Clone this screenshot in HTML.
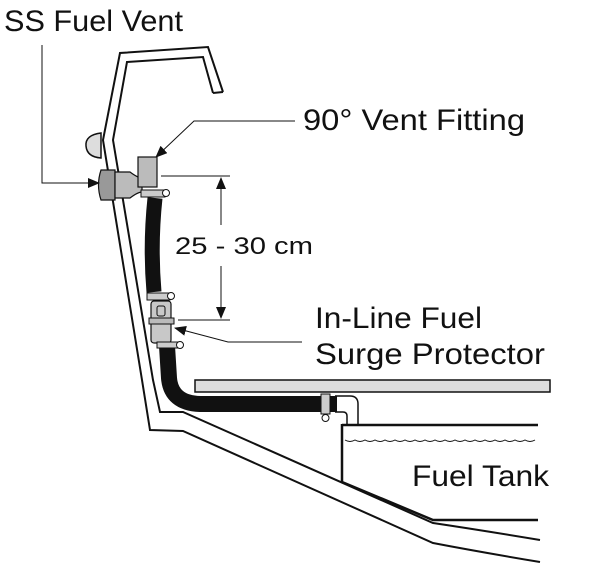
<!DOCTYPE html>
<html><head><style>
html,body{margin:0;padding:0;background:#fff;}
svg{display:block;}
text{font-family:"Liberation Sans",sans-serif;fill:#111;}
</style></head><body>
<svg width="600" height="580" viewBox="0 0 600 580" xmlns="http://www.w3.org/2000/svg">
<defs>
<marker id="ar" markerWidth="12" markerHeight="10" refX="11" refY="5" orient="auto" markerUnits="userSpaceOnUse">
<path d="M0,0 L12,5 L0,10 z" fill="#111"/></marker>
</defs>
<path d="M223,92 L208,47 L120,53 L103,140 L142,380 L150,430 L183,431 L433,543 Q480,552 540,562" fill="none" stroke="#111" stroke-width="2"/>
<path d="M213,93 L203,57 L127,62 L113,140 L153,380 L160,412 L183,412 L433,523 Q480,530 540,540" fill="none" stroke="#111" stroke-width="2"/>
<path d="M213,93 L223,92" stroke="#111" stroke-width="2"/>
<path d="M101,133 Q85,135 86,146 Q87,157 101,158 z" fill="#ddd" stroke="#111" stroke-width="1.5"/>
<rect x="195" y="380" width="355" height="12" fill="#ddd" stroke="#111" stroke-width="1.5"/>
<path d="M342,425 L538,425" stroke="#111" stroke-width="2.5"/>
<path d="M342,424 L342,482 L433,520 L538,520" fill="none" stroke="#111" stroke-width="2.5"/>
<path d="M345,440 q5,3 10,0 q5,3 10,0 q5,3 10,0 q5,3 10,0 q5,3 10,0 q5,3 10,0 q5,3 10,0 q5,3 10,0 q5,3 10,0 q5,3 10,0 q5,3 10,0 q5,3 10,0 q5,3 10,0 q5,3 10,0 q5,3 10,0 q5,3 10,0 q5,3 10,0 q5,3 10,0 q5,3 10,0" fill="none" stroke="#111" stroke-width="1"/>
<path d="M335,396 L350,396 Q358,396 358,404 L358,425" fill="none" stroke="#111" stroke-width="1.5"/>
<path d="M335,412 L343,412 Q347,412 347,416 L347,425" fill="none" stroke="#111" stroke-width="1.5"/>
<path d="M155,198 Q150,245 154,292" fill="none" stroke="#111" stroke-width="15"/>
<path d="M167,346 L169,378 Q171,403 200,404 L337,404" fill="none" stroke="#111" stroke-width="16"/>
<rect x="321" y="394" width="9" height="20" fill="#ccc" stroke="#111" stroke-width="1"/>
<circle cx="325.5" cy="418" r="3.5" fill="#fff" stroke="#111" stroke-width="1"/>
<path d="M101,170 Q96,185 101,200 L115,200 L115,170 z" fill="#999" stroke="#111" stroke-width="1.2"/>
<path d="M115,172 L130,172 Q138,178 142,178 L142,192 Q138,192 130,198 L115,198 z" fill="#bbb" stroke="#111" stroke-width="1.2"/>
<rect x="138" y="157" width="19" height="30" fill="#bbb" stroke="#111" stroke-width="1.2"/>
<rect x="141" y="190" width="24" height="7" fill="#ccc" stroke="#111" stroke-width="1"/>
<circle cx="166" cy="193" r="3.5" fill="#fff" stroke="#111" stroke-width="1"/>
<rect x="147" y="293" width="23" height="7" fill="#ccc" stroke="#111" stroke-width="1"/>
<circle cx="171" cy="296" r="3.5" fill="#fff" stroke="#111" stroke-width="1"/>
<rect x="151" y="301" width="20" height="42" rx="3" fill="#c8c8c8" stroke="#111" stroke-width="1.2"/>
<rect x="149" y="318" width="25" height="6" fill="#bbb" stroke="#111" stroke-width="1"/>
<rect x="157" y="306" width="8" height="10" rx="2" fill="none" stroke="#111" stroke-width="1"/>
<rect x="157" y="342" width="23" height="6" fill="#ccc" stroke="#111" stroke-width="1"/>
<circle cx="180" cy="345" r="3.5" fill="#fff" stroke="#111" stroke-width="1"/>
<path d="M161,176 L230,176 M178,320 L230,320" stroke="#111" stroke-width="1"/>
<path d="M221,225 L221,178" stroke="#111" stroke-width="1" marker-end="url(#ar)"/>
<path d="M221,266 L221,318" stroke="#111" stroke-width="1" marker-end="url(#ar)"/>
<text x="175" y="254" font-size="24" textLength="138" lengthAdjust="spacingAndGlyphs">25 - 30 cm</text>
<path d="M42,45 L42,183 L99,183" fill="none" stroke="#111" stroke-width="1" marker-end="url(#ar)"/>
<path d="M295,121 L194,121 L156,157" fill="none" stroke="#111" stroke-width="1" marker-end="url(#ar)"/>
<path d="M302,342 L228,342 L175,328" fill="none" stroke="#111" stroke-width="1" marker-end="url(#ar)"/>
<text x="4" y="31" font-size="30" textLength="179" lengthAdjust="spacingAndGlyphs">SS Fuel Vent</text>
<text x="303" y="130" font-size="30" textLength="222" lengthAdjust="spacingAndGlyphs">90° Vent Fitting</text>
<text x="315" y="328" font-size="30" textLength="167" lengthAdjust="spacingAndGlyphs">In-Line Fuel</text>
<text x="315" y="364" font-size="30" textLength="230" lengthAdjust="spacingAndGlyphs">Surge Protector</text>
<text x="412" y="486" font-size="30" textLength="137" lengthAdjust="spacingAndGlyphs">Fuel Tank</text>
</svg>
</body></html>
